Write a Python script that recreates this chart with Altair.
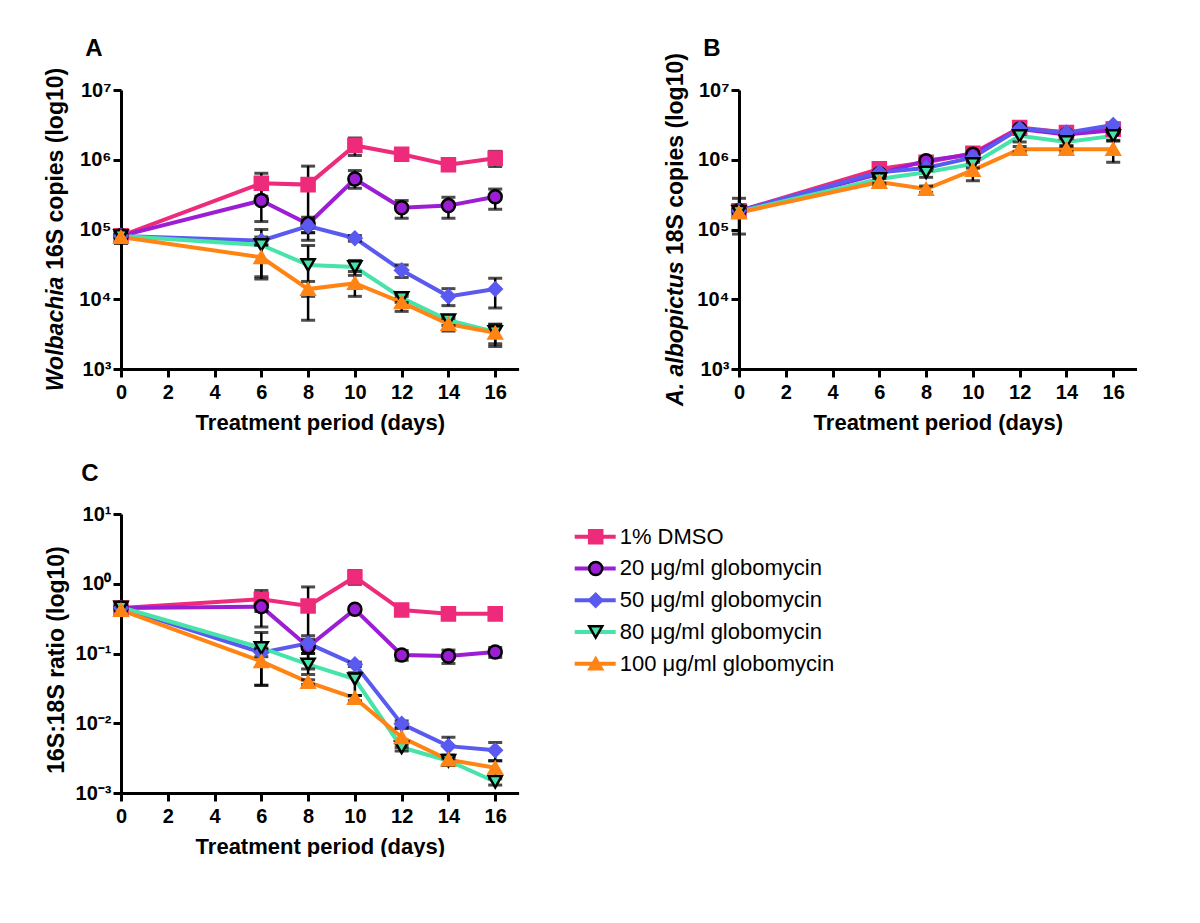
import altair as alt
import pandas as pd

# ---------------- data ----------------
DAYS = [0, 6, 8, 10, 12, 14, 16]
SERIES = ["1% DMSO", "20 μg/ml globomycin", "50 μg/ml globomycin",
          "80 μg/ml globomycin", "100 μg/ml globomycin"]
COLORS = ["#EE2A7B", "#9C1ED4", "#5A5AF0", "#46E3AA", "#FF8414"]
OUTLINES = ["#EE2A7B", "#000000", "#5A5AF0", "#000000", "#FF8414"]
SHAPES = ["square", "circle", "diamond", "triangle-down", "triangle-up"]
SIZES = [170, 170, 250, 230, 260]

X_TICKS = [0, 2, 4, 6, 8, 10, 12, 14, 16]
COPY_TICKS = [1e3, 1e4, 1e5, 1e6, 1e7]
RATIO_TICKS = [1e-3, 1e-2, 1e-1, 1e0, 1e1]

# Panel A: Wolbachia 16S copies
A_DMSO = [8.1e4, 4.6e5, 4.4e5, 1.6e6, 1.2e6, 8.5e5, 1.05e6]
A_DMSO_LO = [6.5e4, 3.0e5, 7.0e4, 1.15e6, 1.05e6, 7.5e5, 8.0e5]
A_DMSO_HI = [9.7e4, 6.4e5, 8.1e5, 2.05e6, 1.35e6, 9.5e5, 1.32e6]
A_G20 = [8.1e4, 2.6e5, 1.2e5, 5.3e5, 2.05e5, 2.2e5, 2.95e5]
A_G20_LO = [6.5e4, 1.3e5, 9.0e4, 3.9e5, 1.45e5, 1.45e5, 1.95e5]
A_G20_HI = [9.7e4, 3.9e5, 1.5e5, 7.0e5, 2.6e5, 2.9e5, 3.8e5]
A_G50 = [8.1e4, 6.9e4, 1.12e5, 7.5e4, 2.6e4, 1.1e4, 1.4e4]
A_G50_LO = [6.5e4, 6.0e4, 9.0e4, 6.8e4, 2.05e4, 8.1e3, 7.5e3]
A_G50_HI = [9.7e4, 7.8e4, 1.35e5, 8.2e4, 3.1e4, 1.42e4, 2.0e4]
A_G80 = [8.1e4, 6.0e4, 3.1e4, 2.9e4, 1.05e4, 5.0e3, 3.4e3]
A_G80_LO = [6.5e4, 2.1e4, 5.0e3, 2.2e4, 9.0e3, 4.2e3, 2.1e3]
A_G80_HI = [9.7e4, 1.0e5, 5.9e4, 3.6e4, 1.2e4, 5.8e3, 4.4e3]
A_G100 = [7.8e4, 4.0e4, 1.4e4, 1.7e4, 9.0e3, 4.4e3, 3.3e3]
A_G100_LO = [6.3e4, 1.95e4, 1.1e4, 1.1e4, 6.7e3, 3.5e3, 2.3e3]
A_G100_HI = [9.3e4, 6.0e4, 1.8e4, 2.5e4, 1.1e4, 5.3e3, 4.3e3]

# Panel B: A. albopictus 18S copies
B_DMSO = [1.85e5, 7.4e5, 9.2e5, 1.24e6, 2.9e6, 2.45e6, 2.75e6]
B_DMSO_LO = [1.7e5, 6.8e5, 8.5e5, 1.15e6, 2.3e6, 2.3e6, 2.6e6]
B_DMSO_HI = [2.0e5, 8.0e5, 9.9e5, 1.33e6, 3.5e6, 2.6e6, 2.9e6]
B_G20 = [1.85e5, 6.3e5, 9.7e5, 1.2e6, 2.75e6, 2.3e6, 2.65e6]
B_G20_LO = [1.7e5, 5.8e5, 8.8e5, 1.1e6, 2.5e6, 2.15e6, 2.45e6]
B_G20_HI = [2.0e5, 6.8e5, 1.06e6, 1.32e6, 3.0e6, 2.45e6, 2.85e6]
B_G50 = [1.85e5, 6.6e5, 7.6e5, 1.08e6, 2.8e6, 2.45e6, 3.15e6]
B_G50_LO = [1.7e5, 6.1e5, 7.0e5, 1.0e6, 2.55e6, 2.3e6, 2.95e6]
B_G50_HI = [2.0e5, 7.1e5, 8.2e5, 1.16e6, 3.05e6, 2.6e6, 3.35e6]
B_G80 = [1.8e5, 5.3e5, 6.6e5, 8.7e5, 2.2e6, 1.8e6, 2.2e6]
B_G80_LO = [8.6e4, 4.6e5, 5.6e5, 7.6e5, 1.8e6, 1.6e6, 1.85e6]
B_G80_HI = [2.8e5, 6.0e5, 7.6e5, 9.8e5, 2.6e6, 2.0e6, 2.6e6]
B_G100 = [1.75e5, 4.8e5, 3.8e5, 7.1e5, 1.42e6, 1.42e6, 1.42e6]
B_G100_LO = [1.6e5, 4.2e5, 3.4e5, 5.0e5, 1.3e6, 1.3e6, 9.2e5]
B_G100_HI = [1.9e5, 5.4e5, 4.2e5, 9.2e5, 1.55e6, 1.55e6, 1.9e6]

# Panel C: 16S:18S ratio
C_DMSO = [0.45, 0.60, 0.48, 1.25, 0.42, 0.37, 0.37]
C_DMSO_LO = [0.40, 0.40, 0.06, 0.98, 0.38, 0.34, 0.34]
C_DMSO_HI = [0.50, 0.80, 0.90, 1.55, 0.46, 0.40, 0.40]
C_G20 = [0.45, 0.47, 0.125, 0.43, 0.095, 0.092, 0.105]
C_G20_LO = [0.40, 0.24, 0.10, 0.40, 0.08, 0.072, 0.088]
C_G20_HI = [0.50, 0.70, 0.18, 0.46, 0.11, 0.112, 0.122]
C_G50 = [0.45, 0.103, 0.14, 0.07, 0.0098, 0.0047, 0.0041]
C_G50_LO = [0.40, 0.09, 0.12, 0.065, 0.0088, 0.0031, 0.0029]
C_G50_HI = [0.50, 0.115, 0.16, 0.075, 0.0108, 0.0063, 0.0053]
C_G80 = [0.46, 0.12, 0.07, 0.043, 0.0045, 0.0029, 0.00145]
C_G80_LO = [0.41, 0.035, 0.05, 0.025, 0.004, 0.0025, 0.0013]
C_G80_HI = [0.51, 0.20, 0.10, 0.053, 0.005, 0.0033, 0.0016]
C_G100 = [0.42, 0.077, 0.039, 0.023, 0.0063, 0.003, 0.0023]
C_G100_LO = [0.38, 0.035, 0.036, 0.021, 0.0045, 0.0025, 0.0017]
C_G100_HI = [0.46, 0.12, 0.042, 0.025, 0.0084, 0.0035, 0.0029]

# ---------------- helpers ----------------
FONT = "Liberation Sans"
SUP = ("['10⁻³','10⁻²','10⁻¹','10⁰','10¹','10²','10³','10⁴','10⁵','10⁶','10⁷']"
       "[round(log(datum.value)/LN10)+3]")
W, H = 397.6, 279
TS = 23  # y-title font size
SPACE = 0.278 * TS


def long_df(means, los, his):
    rows = []
    for s, m, lo, hi in zip(SERIES, means, los, his):
        for d, a, b, c in zip(DAYS, m, lo, hi):
            rows.append({"series": s, "day": d, "mean": a, "lo": b, "hi": c})
    return pd.DataFrame(rows)


color_enc = alt.Color("series:N", scale=alt.Scale(domain=SERIES, range=COLORS), legend=None)
fill_enc = alt.Fill("series:N", scale=alt.Scale(domain=SERIES, range=COLORS), legend=None)
stroke_enc = alt.Stroke("series:N", scale=alt.Scale(domain=SERIES, range=OUTLINES), legend=None)
shape_enc = alt.Shape("series:N", scale=alt.Scale(domain=SERIES, range=SHAPES), legend=None)
size_enc = alt.Size("series:N", scale=alt.Scale(domain=SERIES, range=SIZES), legend=None)


def text_layer(text, x, y, size, italic=False, angle=0, align="left"):
    return alt.Chart(pd.DataFrame({"t": [text]})).mark_text(
        font=FONT, fontSize=size, fontWeight="bold",
        fontStyle="italic" if italic else "normal",
        angle=angle, align=align, baseline="middle", color="black",
    ).encode(x=alt.value(x), y=alt.value(y), text="t:N")


def panel(df, ydomain, yticks, extra):
    xenc = alt.X("day:Q", scale=alt.Scale(domain=[0, 17], nice=False, zero=False),
                 axis=alt.Axis(values=X_TICKS, title="Treatment period (days)", format="d"))
    yscale = alt.Scale(type="log", domain=ydomain, nice=False)
    yaxis = alt.Axis(values=yticks, labelExpr=SUP, title=None)
    base = alt.Chart(df)
    lines = base.mark_line(strokeWidth=4).encode(
        x=xenc, y=alt.Y("mean:Q", scale=yscale, axis=yaxis), color=color_enc)
    bars = base.mark_rule(color="black", strokeWidth=2.5).encode(
        x=xenc, y=alt.Y("lo:Q", scale=yscale, axis=yaxis), y2="hi:Q")
    cap_lo = base.mark_tick(orient="horizontal", color="black", thickness=3, size=14).encode(
        x=xenc, y=alt.Y("lo:Q", scale=yscale, axis=yaxis))
    cap_hi = base.mark_tick(orient="horizontal", color="black", thickness=3, size=14).encode(
        x=xenc, y=alt.Y("hi:Q", scale=yscale, axis=yaxis))
    pts = base.mark_point(filled=True, opacity=1, strokeWidth=2.5).encode(
        x=xenc, y=alt.Y("mean:Q", scale=yscale, axis=yaxis),
        fill=fill_enc, stroke=stroke_enc, shape=shape_enc, size=size_enc)
    return alt.layer(lines, bars, cap_lo, cap_hi, pts, *extra).properties(width=W, height=H)


# ---------------- panels ----------------
dfA = long_df([A_DMSO, A_G20, A_G50, A_G80, A_G100],
              [A_DMSO_LO, A_G20_LO, A_G50_LO, A_G80_LO, A_G100_LO],
              [A_DMSO_HI, A_G20_HI, A_G50_HI, A_G80_HI, A_G100_HI])
dfB = long_df([B_DMSO, B_G20, B_G50, B_G80, B_G100],
              [B_DMSO_LO, B_G20_LO, B_G50_LO, B_G80_LO, B_G100_LO],
              [B_DMSO_HI, B_G20_HI, B_G50_HI, B_G80_HI, B_G100_HI])
dfC = long_df([C_DMSO, C_G20, C_G50, C_G80, C_G100],
              [C_DMSO_LO, C_G20_LO, C_G50_LO, C_G80_LO, C_G100_LO],
              [C_DMSO_HI, C_G20_HI, C_G50_HI, C_G80_HI, C_G100_HI])

anchor = alt.Chart(pd.DataFrame({"a": [0]})).mark_rule(color="white", strokeWidth=1).encode(
    x=alt.value(-112.2), x2=alt.value(-110), y=alt.value(-80.8), y2=alt.value(-80.8))

# rotated y titles (bottom-to-top); widths estimated for 23px bold Arial-metric font
A_W1, A_W2 = 5.001 * TS, 8.781 * TS
A_BOT = H / 2 + (A_W1 + SPACE + A_W2) / 2
B_W1, B_W2 = 6.279 * TS, 8.781 * TS
B_BOT = H / 2 + (B_W1 + SPACE + B_W2) / 2
A_extra = [
    anchor,
    text_layer("Wolbachia", -65, A_BOT, TS, italic=True, angle=270),
    text_layer("16S copies (log10)", -65, A_BOT - A_W1 - SPACE, TS, angle=270),
    text_layer("A", -27, -41, 24, align="center"),
]
B_extra = [
    text_layer("A. albopictus", -63, B_BOT, TS, italic=True, angle=270),
    text_layer("18S copies (log10)", -63, B_BOT - B_W1 - SPACE, TS, angle=270),
    text_layer("B", -27, -41, 24, align="center"),
]
C_extra = [
    text_layer("16S:18S ratio (log10)", -64, 146, TS, angle=270, align="center"),
    text_layer("C", -31, -40, 24, align="center"),
]

chartA = panel(dfA, [1e3, 1e7], COPY_TICKS, A_extra)
chartB = panel(dfB, [1e3, 1e7], COPY_TICKS, B_extra)
chartC = panel(dfC, [1e-3, 1e1], RATIO_TICKS, C_extra)

# ---------------- custom legend ----------------
leg_df = pd.DataFrame({"series": SERIES})
ly = alt.Y("series:N", scale=alt.Scale(type="point", domain=SERIES, range=[22.7, 149.7], padding=0),
           axis=None)
leg_base = alt.Chart(leg_df)
leg_lines = leg_base.mark_rule(strokeWidth=4).encode(
    x=alt.value(14), x2=alt.value(55), y=ly, color=color_enc)
leg_pts = leg_base.mark_point(filled=True, opacity=1, strokeWidth=2.5).encode(
    x=alt.value(35), y=ly, fill=fill_enc, stroke=stroke_enc, shape=shape_enc, size=size_enc)
leg_txt = leg_base.mark_text(align="left", baseline="middle", font=FONT, fontSize=22,
                             color="black").encode(x=alt.value(59), y=ly, text="series:N")
legend_view = alt.layer(leg_lines, leg_pts, leg_txt).properties(width=300, height=H)

top = alt.hconcat(chartA, chartB, spacing=220, bounds="flush")
bottom = alt.hconcat(chartC, legend_view, spacing=41.7, bounds="flush")

# with flush bounds the nested top row counts as zero height, so spacing = H + gap
chart = alt.vconcat(top, bottom, spacing=H + 145, bounds="flush").properties(
    padding=0, background="white"
).configure_view(stroke=None).configure_axis(
    domainColor="black", domainWidth=3, tickColor="black", tickWidth=3, tickSize=8,
    labelFont=FONT, labelFontSize=20, labelFontWeight="bold", labelColor="black",
    titleFont=FONT, titleFontSize=22, titleFontWeight="bold", titleColor="black",
    grid=False, labelOverlap=False, labelFlush=False,
).configure_axisX(labelPadding=5, titlePadding=10).configure_axisY(labelPadding=2)

chart.save("out.html", embed_options={"renderer": "svg", "actions": False})
